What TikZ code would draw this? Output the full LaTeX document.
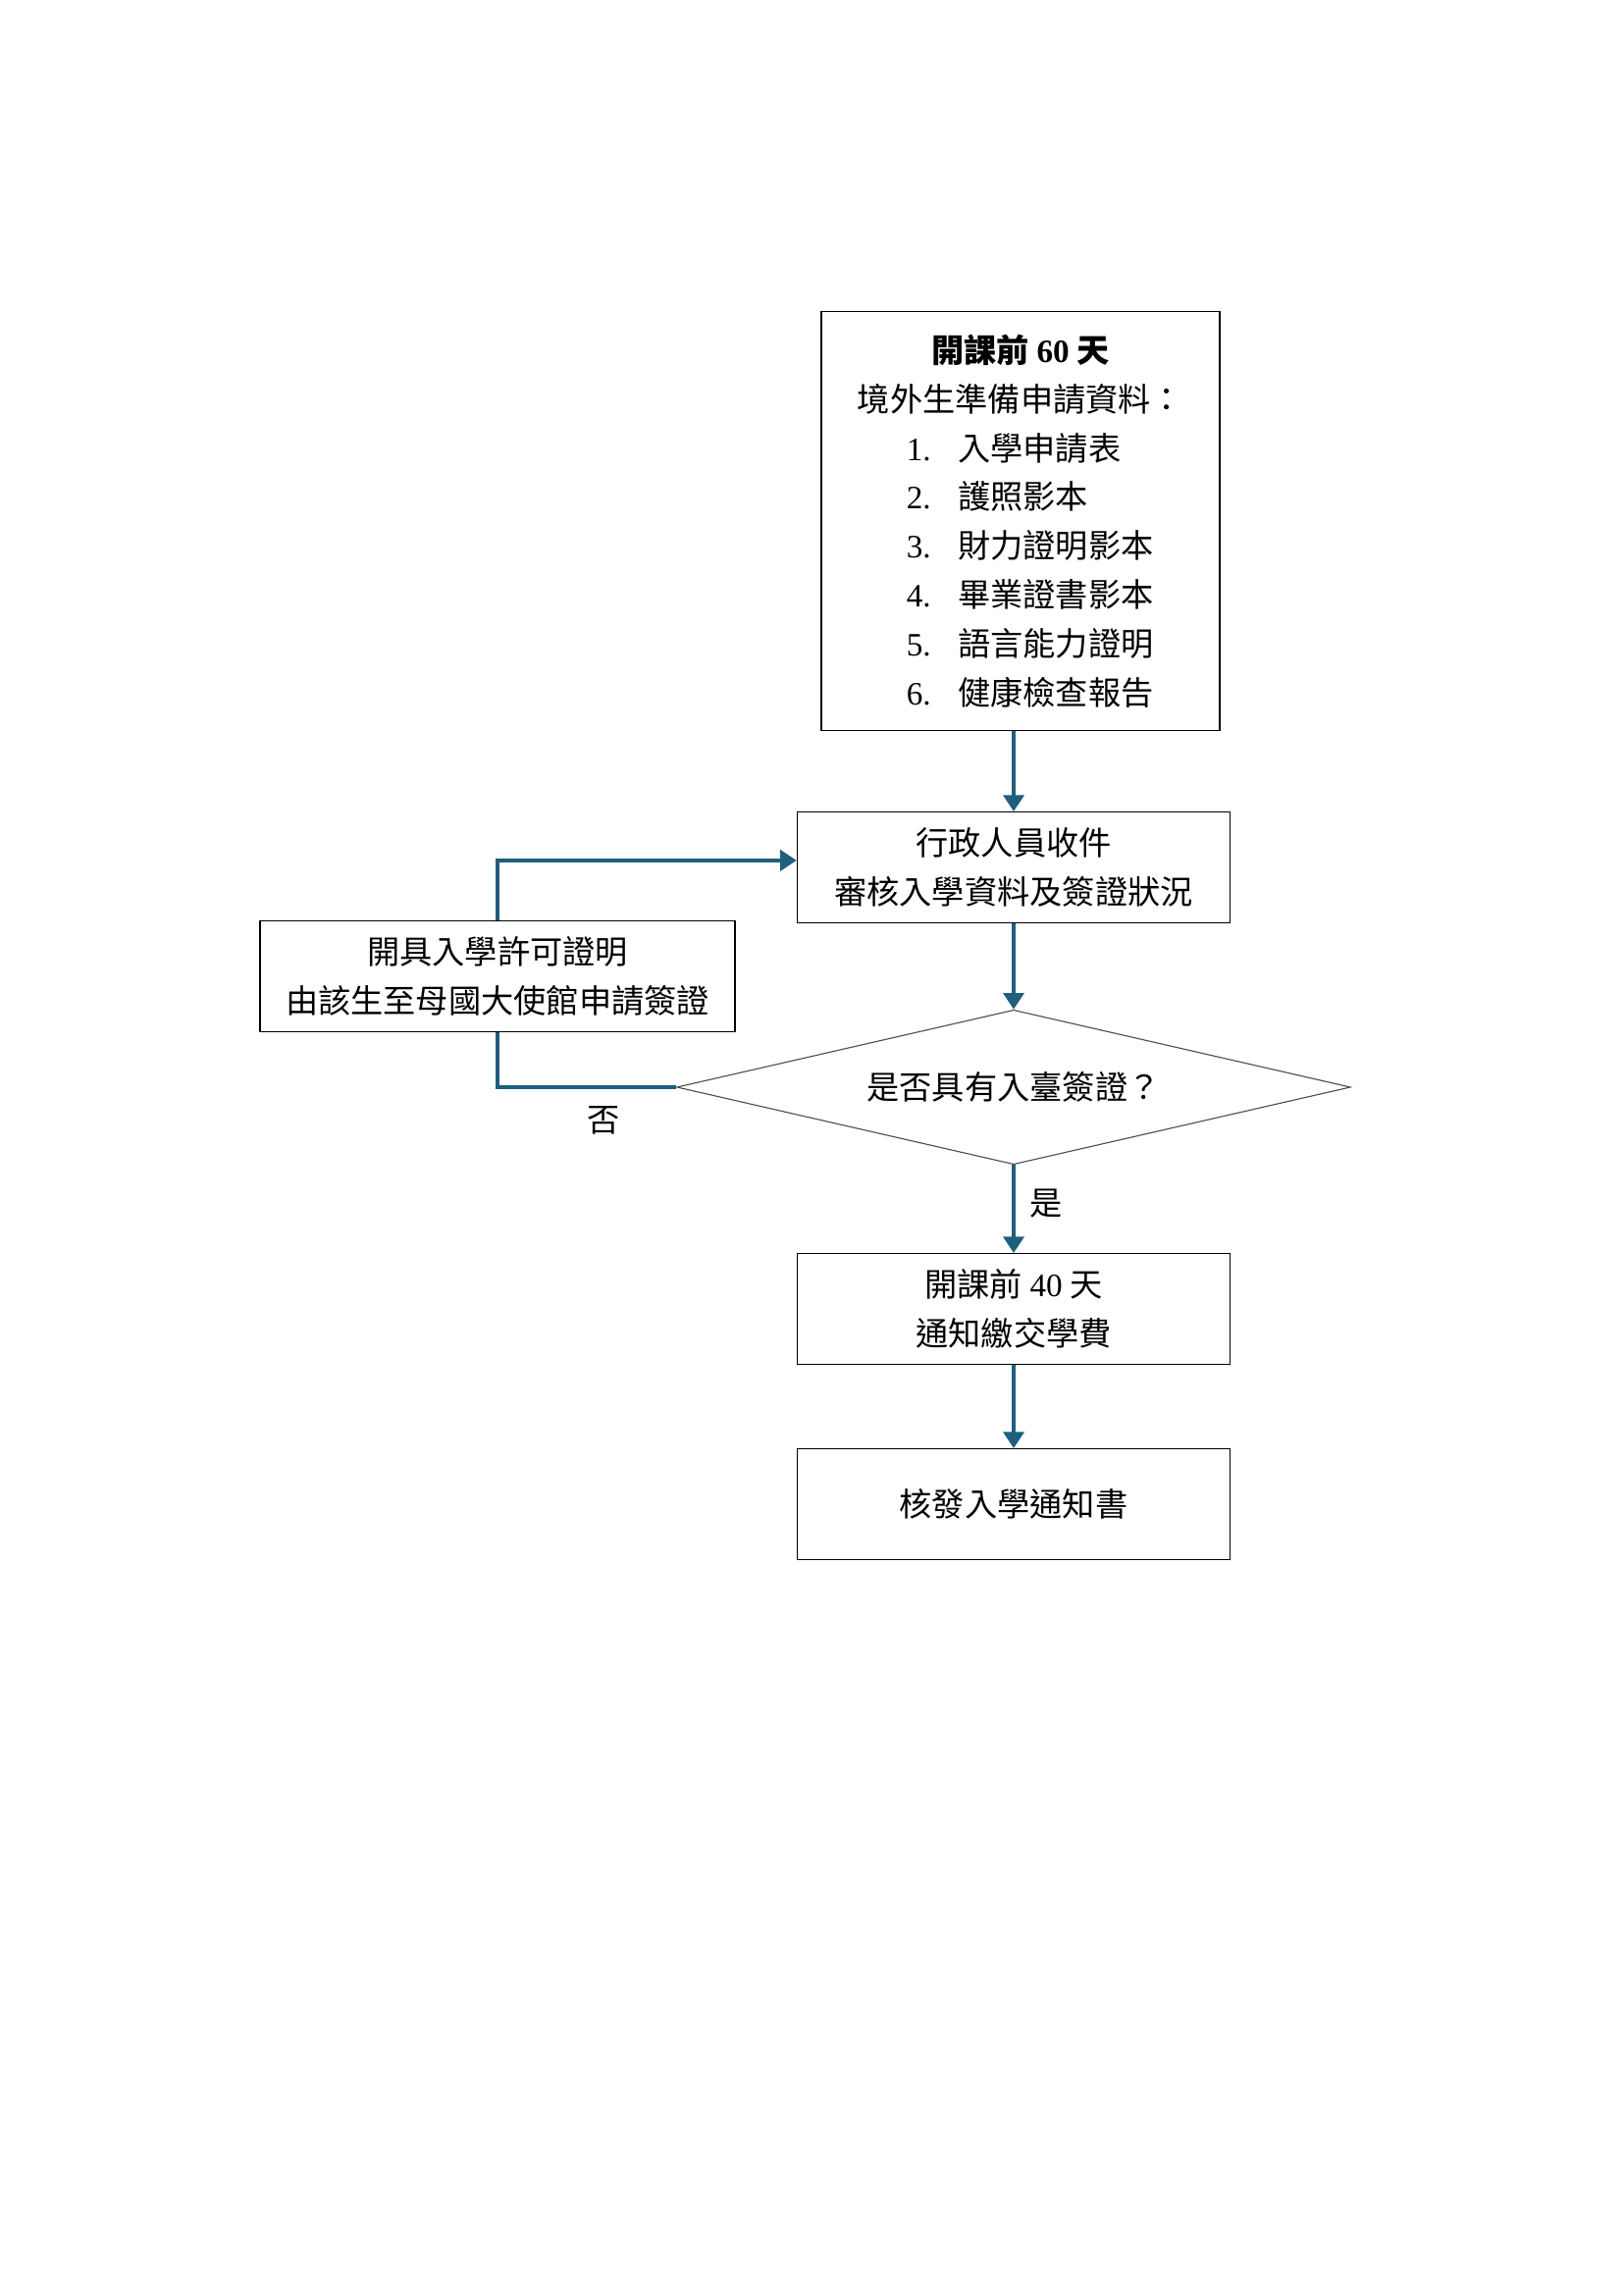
\documentclass[tikz,border=0pt]{standalone}
\usepackage{fontspec}
\usepackage{tikz}
\usetikzlibrary{shapes.geometric,arrows.meta}
\setmainfont{Liberation Serif}
\newfontfamily\cjk{Noto Sans CJK TC}
\newcommand{\lat}[1]{{\rmfamily #1}}
\definecolor{flowColor}{RGB}{31,94,125}
\tikzstyle{flowchart} = [x = 0.127mm, y = -0.127mm]
\tikzstyle{stepBox} = [draw=black, line width=0.5pt, rectangle, align=center, inner sep=0pt, font=\cjk\fontsize{12}{18}\selectfont]
\tikzstyle{questionBox} = [draw=black!70, line width=0.4pt, diamond, shape aspect=4.34, inner sep=0pt, minimum width=87.2mm, minimum height=20.0mm, font=\cjk\fontsize{12}{18}\selectfont]
\tikzstyle{flowArrow} = [color=flowColor, line width=1.5pt, -{Triangle[length=6pt,width=7.5pt]}]
\tikzstyle{flowLine} = [color=flowColor, line width=1.5pt]
\tikzstyle{answerText} = [font=\cjk\fontsize{12}{18}\selectfont]
\newcommand{\listItem}[2]{\makebox[84pt][l]{\makebox[19pt][l]{\lat{#1}}#2}}

\begin{document}
\begin{tikzpicture}[flowchart]
  \useasboundingbox (0,0) rectangle (1654,2339);

  % boxes
  \node [stepBox, minimum width=51.6mm, minimum height=54.2mm] (prep) at (1040,531) {%
    {\bfseries 開課前 \lat{60} 天}\\
    境外生準備申請資料：\\
    \listItem{1.}{入學申請表}\\
    \listItem{2.}{護照影本}\\
    \listItem{3.}{財力證明影本}\\
    \listItem{4.}{畢業證書影本}\\
    \listItem{5.}{語言能力證明}\\
    \listItem{6.}{健康檢查報告}};
  \node [stepBox, minimum width=56.0mm, minimum height=14.3mm] (check) at (1033,884) {行政人員收件\\審核入學資料及簽證狀況};
  \node [questionBox] (visa) at (1033,1108) {是否具有入臺簽證？};
  \node [stepBox, minimum width=61.5mm, minimum height=14.4mm] (permit) at (507,995) {開具入學許可證明\\由該生至母國大使館申請簽證};
  \node [stepBox, minimum width=56.0mm, minimum height=14.3mm] (fee) at (1033,1334) {開課前 \lat{40} 天\\通知繳交學費};
  \node [stepBox, minimum width=56.0mm, minimum height=14.3mm] (notice) at (1033,1533) {核發入學通知書};

  % answers
  \node [answerText] (no) at (615,1142) {否};
  \node [answerText] (yes) at (1066,1227) {是};

  % connectors
  \draw [flowArrow] (prep.south -| check.north) -- (check.north);
  \draw [flowArrow] (check.south) -- (visa.north);
  \draw [flowArrow] (visa.south) -- (fee.north);
  \draw [flowArrow] (fee.south) -- (notice.north);
  \draw [flowLine] (visa.west) -| (permit.south);
  \draw [flowArrow] (permit.north) |- ([yshift=0.9mm]check.west);
\end{tikzpicture}
\end{document}
